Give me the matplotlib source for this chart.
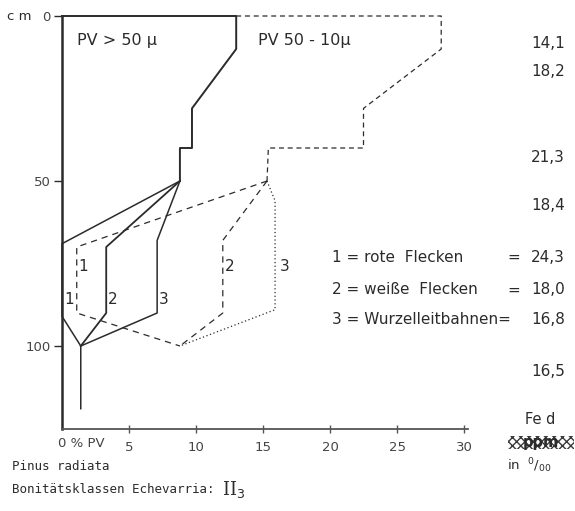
import matplotlib
matplotlib.use("Agg")
import matplotlib.pyplot as plt
from matplotlib.patches import Rectangle

# depth (cm) and pore volume (% PV)
pv50_x = [0, 13, 13, 9.7, 9.7, 8.8, 8.8]
pv50_y = [0, 0, 10, 28, 40, 40, 50]
solid1_x = [8.8, 0, 0, 1.4, 1.4]
solid1_y = [50, 69, 91, 100, 119]
solid2_x = [8.8, 3.3, 3.3, 1.4]
solid2_y = [50, 70, 90, 100]
solid3_x = [8.8, 7.1, 7.1, 1.4]
solid3_y = [50, 68, 90, 100]

pv10_x = [13, 28.3, 28.3, 22.5, 22.5, 15.4, 15.3]
pv10_y = [0, 0, 10, 28, 40, 40, 50]
dash1_x = [15.3, 1.1, 1.1, 8.8]
dash1_y = [50, 70, 90, 100]
dash2_x = [15.3, 12, 12, 8.8]
dash2_y = [50, 68, 90, 100]
dot3_x = [15.3, 15.9, 15.9, 8.8]
dot3_y = [50, 56, 89, 100]

xticks = [5, 10, 15, 20, 25, 30]
yticks = [0, 50, 100]
fe_values = ["14,1", "18,2", "21,3", "18,4", "16,5"]
fe_ypix = [44, 72, 158, 206, 371]
legend_labels = ["1 = rote  Flecken", "2 = weiße  Flecken", "3 = Wurzelleitbahnen="]
legend_values = ["24,3", "18,0", "16,8"]
legend_ypix = [257, 290, 319]

W, H = 575, 511
ink = "#2b2b2b"

fig = plt.figure(figsize=(W / 100, H / 100), dpi=100)
ax = fig.add_axes([62 / W, 1 - 428.5 / H, 408.7 / W, 412.5 / H])
ax.set_xlim(0, 30.5)
ax.set_ylim(125, 0)


def px(x, y):
    return x / W, 1 - y / H


kw = dict(color=ink, clip_on=False)
ax.plot(pv50_x, pv50_y, lw=1.4, **kw)
ax.plot(solid1_x, solid1_y, lw=1.1, **kw)
ax.plot(solid2_x, solid2_y, lw=1.3, **kw)
ax.plot(solid3_x, solid3_y, lw=1.1, **kw)

ax.plot(pv10_x, pv10_y, lw=0.9, ls=(0, (4, 3)), **kw)
ax.plot(dash1_x, dash1_y, lw=0.9, ls=(0, (5, 4)), **kw)
ax.plot(dash2_x, dash2_y, lw=0.9, ls=(0, (5, 4)), **kw)
ax.plot(dot3_x, dot3_y, lw=0.9, ls=(0, (1, 2)), **kw)

for s in ["top", "right"]:
    ax.spines[s].set_visible(False)
ax.spines["left"].set_linewidth(1.8)
ax.spines["bottom"].set_linewidth(1.3)
ax.spines["left"].set_color(ink)
ax.spines["bottom"].set_color("#555555")
ax.spines["bottom"].set_bounds(0, 30.3)

ax.set_xticks(xticks)
ax.set_xticklabels([str(t) for t in xticks])
ax.set_yticks(yticks)
ax.set_yticklabels([str(t) for t in yticks])
ax.tick_params(axis="x", direction="inout", length=6, width=1, colors="#555555",
               labelsize=9.5, pad=6, labelcolor="#444444")
ax.tick_params(axis="y", direction="out", length=6, width=1, colors=ink,
               labelsize=9.5, pad=2, labelcolor="#444444")

# curve labels
ax.text(1.1, 7.3, "PV > 50 µ", fontsize=11.5, color=ink, va="center")
ax.text(14.6, 7.3, "PV 50 - 10µ", fontsize=11.5, color=ink, va="center")
for x, y, t in [(1.6, 76, "1"), (0.5, 86, "1"), (3.8, 86, "2"), (7.6, 86, "3"),
                (12.5, 76, "2"), (16.6, 76, "3")]:
    ax.text(x, y, t, fontsize=11, color=ink, ha="center", va="center")

# axis annotations
fig.text(*px(7, 16), "c m", fontsize=9.5, color=ink, va="center")
fig.text(*px(58, 443), "0 % PV", fontsize=9.5, color="#444444", va="center")

# Fe d values on the right
for v, y in zip(fe_values, fe_ypix):
    fig.text(*px(565, y), v, fontsize=11, color=ink, ha="right", va="center")
for lab, v, y in zip(legend_labels, legend_values, legend_ypix):
    fig.text(*px(332, y), lab, fontsize=11, color=ink, va="center")
    if not lab.endswith("="):
        fig.text(*px(507, y), "=", fontsize=11, color=ink, va="center")
    fig.text(*px(565, y), v, fontsize=11, color=ink, ha="right", va="center")

fig.text(*px(540, 420), "Fe d", fontsize=10.5, color=ink, ha="center", va="center")
# overprinted unit (crossed out in the original)
x0, y0 = px(508, 449)
x1, y1 = px(574, 436)
fig.patches.append(Rectangle((x0, y0), x1 - x0, y1 - y0, transform=fig.transFigure,
                             facecolor="none", edgecolor="#3a3a3a", hatch="xxxx",
                             lw=0))
fig.text(*px(541, 442), "ppm", fontsize=10.5, color=ink, ha="center", va="center",
         fontweight="bold")
fig.text(*px(507, 466), r"in  $^{0}/_{00}$", fontsize=9.5, color=ink, va="center")

# caption
fig.text(*px(12, 466), "Pinus radiata", fontsize=9, color=ink, va="center",
         family="DejaVu Sans Mono")
fig.text(*px(12, 489), "Bonitätsklassen Echevarria:", fontsize=9, color=ink,
         va="center", family="DejaVu Sans Mono")
fig.text(*px(222, 489), r"II$_3$", fontsize=13, color=ink, va="center",
         family="DejaVu Serif")

fig.savefig("out.png", dpi=100, facecolor="white")
